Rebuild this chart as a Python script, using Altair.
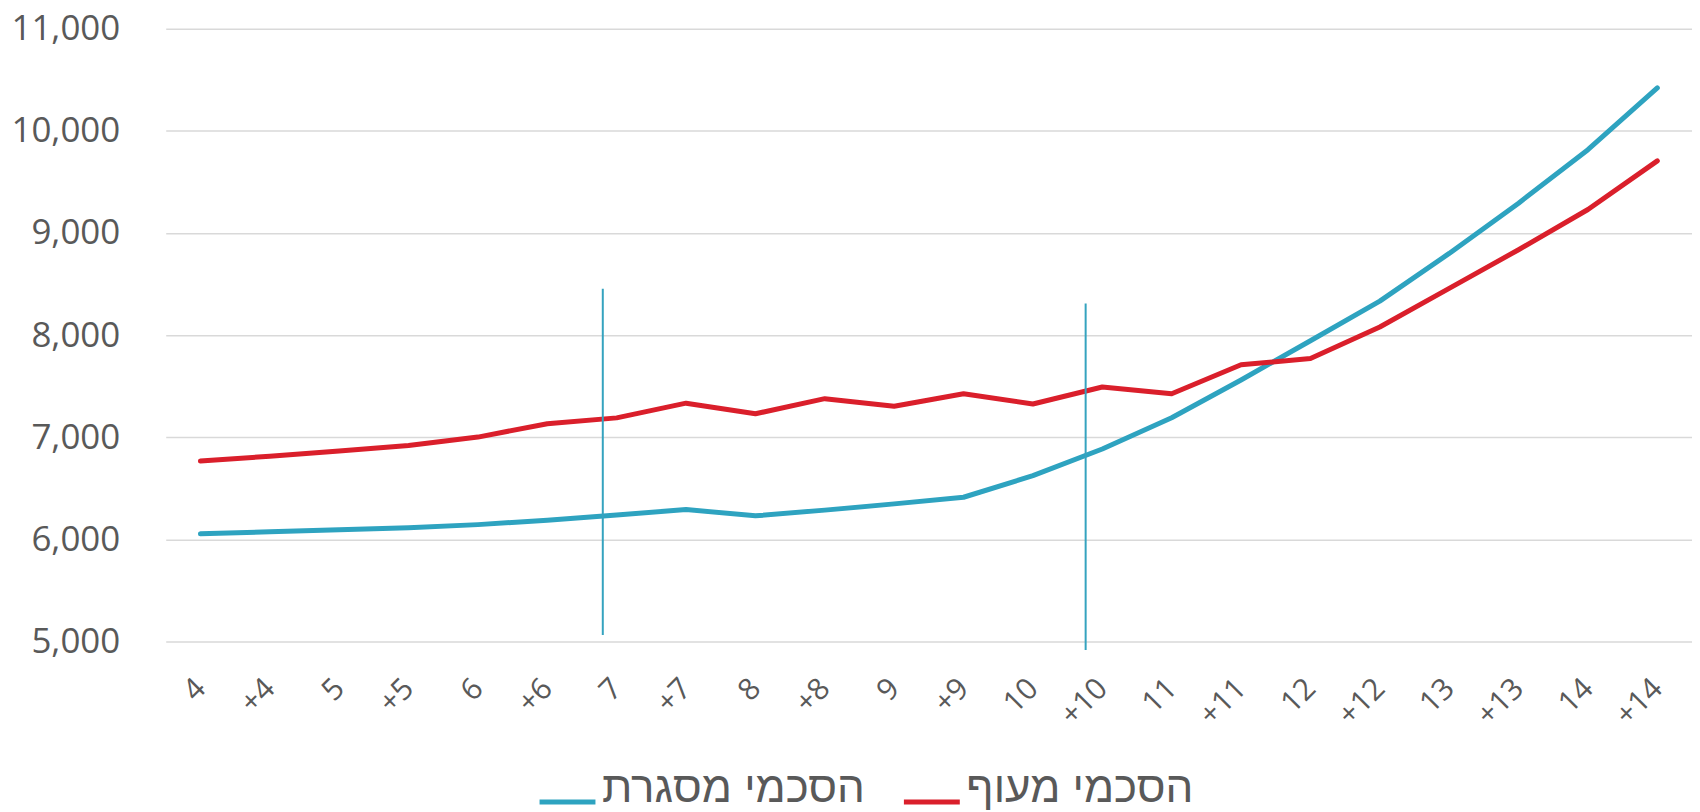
import json
import altair as alt
import pandas as pd

# ---- data ----
cats = ["4", "+4", "5", "+5", "6", "+6", "7", "+7", "8", "+8", "9", "+9",
        "10", "+10", "11", "+11", "12", "+12", "13", "+13", "14", "+14"]
misgeret = [6055, 6075, 6095, 6115, 6145, 6188, 6240, 6292, 6231, 6287, 6348,
            6413, 6624, 6885, 7191, 7561, 7945, 8333, 8800, 9292, 9815, 10420]
meof = [6767, 6815, 6865, 6920, 7002, 7133, 7190, 7334, 7230, 7378, 7304,
        7426, 7326, 7492, 7426, 7710, 7771, 8080, 8458, 8836, 9230, 9706]
series_names = ["הסכמי מסגרת", "הסכמי מעוף"]
series_colors = ["#2EA3C0", "#DA1F2B"]
y_ticks = [5000, 6000, 7000, 8000, 9000, 10000, 11000]

# vertical marker lines (position on category axis, top and bottom values)
marker_pos = [5.80, 12.76]
marker_top = [8455, 8309]
marker_bottom = [5064, 4917]

rows = []
for i, c in enumerate(cats):
    rows.append({"idx": i, "cat": c, "series": series_names[0], "value": misgeret[i]})
    rows.append({"idx": i, "cat": c, "series": series_names[1], "value": meof[i]})
df = pd.DataFrame(rows)
rdf = pd.DataFrame({"pos": marker_pos, "top": marker_top, "bottom": marker_bottom})

label_expr = json.dumps(cats) + "[datum.value]"
xscale = alt.Scale(domain=[-0.5, len(cats) - 0.5], nice=False, zero=False)
yscale = alt.Scale(domain=[5000, 11000], nice=False, zero=False)

xaxis = alt.Axis(values=list(range(len(cats))), labelExpr=label_expr,
                 labelAngle=-45, labelAlign="right", labelBaseline="middle",
                 labelPadding=42, labelFontSize=30, labelFont="Open Sans",
                 labelColor="#595959", grid=False, domain=False, ticks=False,
                 title=None, labelOverlap=False)
yaxis = alt.Axis(values=y_ticks, labelExpr="format(datum.value, ',')", grid=True,
                 gridColor="#D9D9D9", gridWidth=1.5, domain=False, ticks=False,
                 labelPadding=46, labelFontSize=35, labelFont="Open Sans",
                 labelColor="#595959", title=None)

lines = alt.Chart(df).mark_line(strokeWidth=5, strokeCap="round", strokeJoin="round").encode(
    x=alt.X("idx:Q", scale=xscale, axis=xaxis),
    y=alt.Y("value:Q", scale=yscale, axis=yaxis),
    color=alt.Color("series:N", sort=series_names,
                    scale=alt.Scale(domain=series_names, range=series_colors),
                    legend=alt.Legend(orient="none", legendX=372, legendY=744,
                                      direction="horizontal", title=None,
                                      labelFontSize=44, labelFont="Liberation Sans",
                                      labelColor="#595959", labelLimit=600,
                                      labelBaseline="alphabetic",
                                      symbolType="stroke", symbolSize=3136,
                                      symbolStrokeWidth=5, columnPadding=28,
                                      labelOffset=4, padding=0)),
)

rules = alt.Chart(rdf).mark_rule(color="#35A3BF", strokeWidth=2).encode(
    x=alt.X("pos:Q", scale=xscale, axis=xaxis),
    y=alt.Y("top:Q", scale=yscale, axis=yaxis),
    y2="bottom:Q",
)

chart = alt.layer(lines, rules).properties(
    width=1529, height=614,
    autosize=alt.AutoSizeParams(type="none"),
    padding={"left": 158, "top": 20, "right": 0, "bottom": 168},
).configure_view(stroke=None)

chart.save("out.html", embed_options={"renderer": "svg", "actions": False})
